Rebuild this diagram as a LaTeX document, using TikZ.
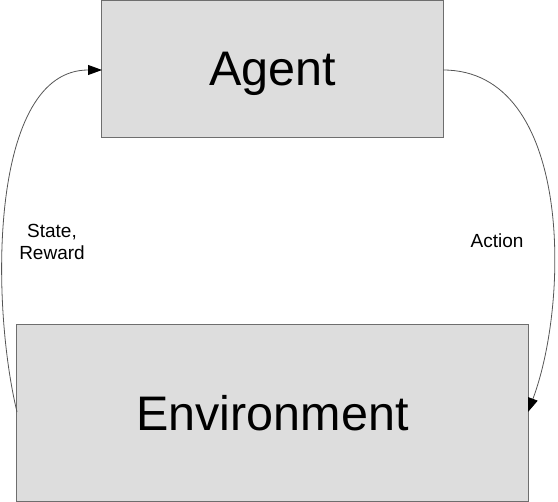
\documentclass[tikz,border=0pt]{standalone}
\usepackage{fontspec}
\setmainfont{Liberation Sans}
\usetikzlibrary{arrows.meta}
\definecolor{boxfill}{HTML}{DDDDDD}
\definecolor{boxline}{HTML}{6E6E6E}
\definecolor{linkline}{HTML}{555555}
\begin{document}
\begin{tikzpicture}[x=1bp,y=-1bp,
  block/.style={draw=boxline,fill=boxfill,line width=1bp,inner sep=0pt,text depth=0pt,font=\fontsize{48.5bp}{50bp}\selectfont},
  link/.style={draw=linkline,line width=0.8bp,-{Triangle[length=14bp,width=10bp,fill=black,color=black]}},
  lbl/.style={font=\fontsize{19bp}{22.5bp}\selectfont,align=center,inner sep=0pt}]
\useasboundingbox (0,0) rectangle (558,502);
\node[block,minimum width=341bp,minimum height=137bp] (agent) at (272.5,69) {Agent};
\node[block,minimum width=511bp,minimum height=177bp] (env) at (272.5,412.5) {Environment};
\coordinate (envL) at (17,412);
\coordinate (agL) at (102,70);
\coordinate (agR) at (443,70);
\coordinate (envR) at (528,412);
\draw[link] (envL) .. controls (-10,300) and (-10,70) .. (agL);
\draw[link] (agR) .. controls (572,70) and (570,300) .. (envR);
\node[lbl] (sr) at (52,242) {State,\\Reward};
\node[lbl] (act) at (497,241) {Action};
\end{tikzpicture}
\end{document}
